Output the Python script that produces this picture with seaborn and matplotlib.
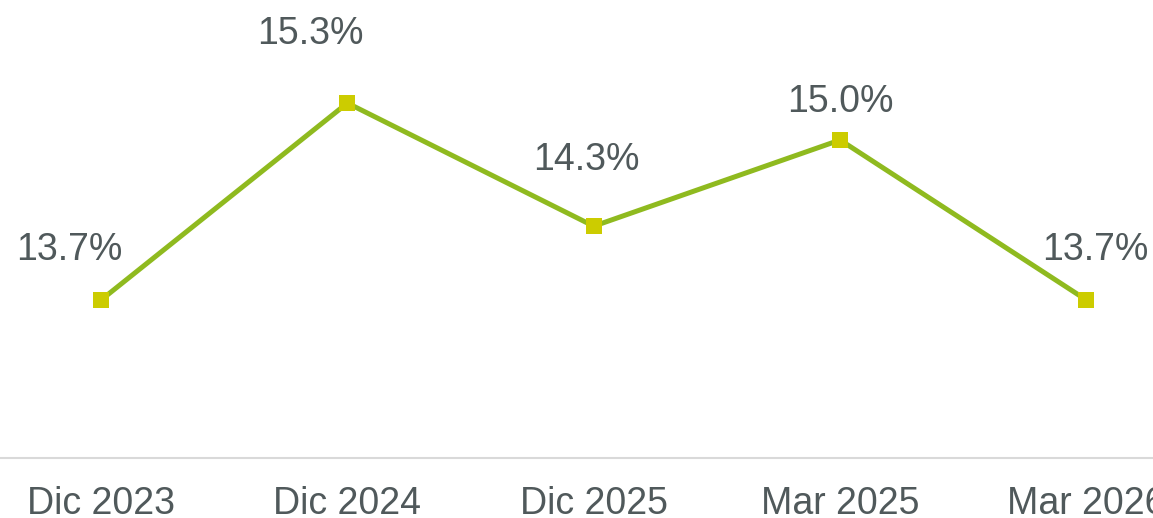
import pandas as pd
import seaborn as sns
import matplotlib.pyplot as plt

# datos
periodos = ["Dic 2023", "Dic 2024", "Dic 2025", "Mar 2025", "Mar 2026"]
valores = [13.7, 15.3, 14.3, 15.0, 13.7]
etiquetas = ["13.7%", "15.3%", "14.3%", "15.0%", "13.7%"]

# desplazamiento de cada etiqueta (puntos)
offsets = [(-23, 36), (-27, 49.5), (-5, 48), (0, 27), (6, 36)]

df = pd.DataFrame({"periodo": periodos, "valor": valores})
df["x"] = range(len(df))

sns.set_theme(style="white")
plt.rcParams["font.family"] = ["Liberation Sans", "DejaVu Sans"]

fig = plt.figure(figsize=(11.53, 5.18), dpi=100)
ax = fig.add_axes([0, 60 / 518, 1, 1 - 60 / 518])

sns.lineplot(data=df, x="x", y="valor", ax=ax, color="#8fba1f", linewidth=3.6,
             marker="s", markersize=11.5, markerfacecolor="#cccc00",
             markeredgecolor="#cccc00", markeredgewidth=0)

for i, (v, t) in enumerate(zip(valores, etiquetas)):
    ax.annotate(t, (i, v), xytext=offsets[i], textcoords="offset points",
                ha="center", va="center", fontsize=27, color="#50595b")

ax.set_xlim(-0.41, 4.27)
ax.set_ylim(12.417, 16.137)
ax.set_xticks(df["x"])
ax.set_xticklabels(periodos)
ax.set_yticks([])
ax.set_xlabel("")
ax.set_ylabel("")
ax.tick_params(axis="x", length=0, pad=20.5, labelsize=27, labelcolor="#50595b")

for s in ["top", "left", "right"]:
    ax.spines[s].set_visible(False)
ax.spines["bottom"].set_color("#d9d9d9")
ax.spines["bottom"].set_linewidth(1.5)

fig.savefig("out.png", dpi=100)
